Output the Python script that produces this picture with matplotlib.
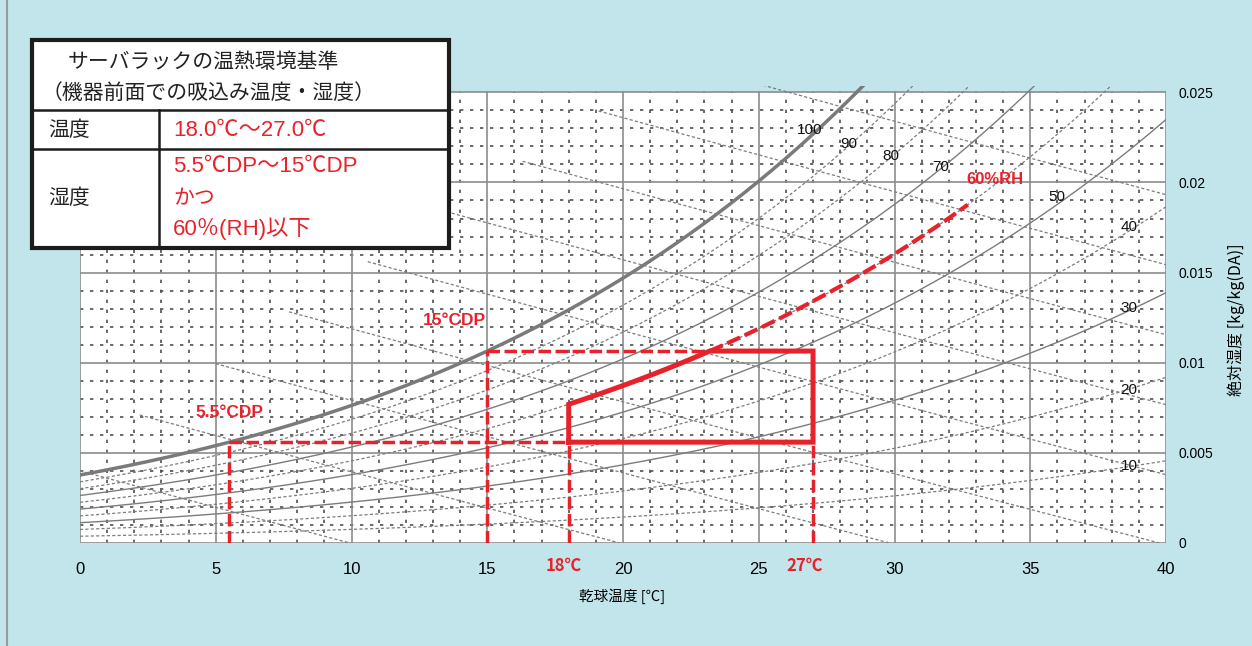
import numpy as np
import matplotlib
matplotlib.use("Agg")
import matplotlib.pyplot as plt
from matplotlib.patches import Rectangle

plt.rcParams['font.family'] = ['Noto Sans CJK JP', 'DejaVu Sans']

# ---- chart values ----
rh_levels = [10, 20, 30, 40, 50, 60, 70, 80, 90, 100]
rh_solid = [30, 50, 70]
enthalpy_levels = [10, 20, 30, 40, 50, 60, 70, 80, 90]
enthalpy_start_t = [0.0, 2.2, 5.0, 7.7, 10.6, 13.5, 16.3, 19.1, 21.9]

x_ticks = [0, 5, 10, 15, 20, 25, 30, 35, 40]
y_ticks = [0, 0.005, 0.01, 0.015, 0.02, 0.025]
y_tick_labels = ['0', '0.005', '0.01', '0.015', '0.02', '0.025']

rh_label_text = ['10', '20', '30', '40', '50', '60%RH', '70', '80', '90', '100']
rh_label_x = [38.64, 38.64, 38.64, 38.64, 35.98, 33.7, 31.7, 29.86, 28.3, 26.88]
rh_label_y = [0.00427, 0.00848, 0.01303, 0.01752, 0.01918, 0.02018, 0.02084, 0.02145, 0.02212, 0.02289]

temp_low, temp_high = 18.0, 27.0
dp_low, dp_high = 5.5, 15.0
rh_max = 60
rh_line_end_t = 32.7
pressure = 101.325

header_lines = ['サーバラックの温熱環境基準', '（機器前面での吸込み温度・湿度）']
row_names = ['温度', '湿度']
temp_text = '18.0℃～27.0℃'
hum_texts = ['5.5℃DP～15℃DP', 'かつ', '60％(RH)以下']

BG = '#c2e5eb'
RED = '#e8222a'
GRAY = '#7c7c7c'


def pws(t):
    return 0.61078 * np.exp(17.27 * t / (t + 237.3))


def w_of(pw):
    return 0.622 * pw / (pressure - pw)


def t_of_pws(p):
    a = np.log(p / 0.61078)
    return 237.3 * a / (17.27 - a)


fig = plt.figure(figsize=(12.52, 6.46), dpi=100, facecolor=BG)
W, H = 1252, 646
ax = fig.add_axes([80 / W, 1 - 543 / H, (1166 - 80) / W, (543 - 86) / H])
ax.set_facecolor('none')
ax.set_xlim(0, 40)
ax.set_ylim(0, 0.02535)
for s in ax.spines.values():
    s.set_visible(False)

ax.add_patch(Rectangle((0, 0), 40, 0.025, facecolor='white', edgecolor='none', zorder=0))

# minor dotted grid
for xv in range(1, 40):
    if xv % 5:
        ax.plot([xv, xv], [0, 0.025], color='#505050', lw=1.2, ls=(0, (2, 4)), zorder=1)
for k in range(1, 25):
    if k % 5:
        ax.plot([0, 40], [k * 0.001, k * 0.001], color='#505050', lw=1.2, ls=(0, (2, 4)), zorder=1)
# major grid
for xv in x_ticks:
    ax.plot([xv, xv], [0, 0.025], color='#8c8c8c', lw=1.2, zorder=2)
for yv in y_ticks:
    ax.plot([0, 40], [yv, yv], color='#8c8c8c', lw=1.2, zorder=2)

# relative humidity curves
t = np.linspace(0, 40, 400)
for rh in rh_levels:
    w = w_of(pws(t) * rh / 100)
    if rh == 100:
        ax.plot(t, w, color='#7a7a7a', lw=2.5, zorder=3)
    elif rh in rh_solid:
        ax.plot(t, w, color=GRAY, lw=1.0, zorder=3)
    else:
        ax.plot(t, w, color=GRAY, lw=0.9, ls=(0, (2.5, 1.8)), zorder=3)

# enthalpy lines
for h, t0 in zip(enthalpy_levels, enthalpy_start_t):
    te = np.linspace(t0, min(h / 1.006, 40), 100)
    we = (h - 1.006 * te) / (2501 + 1.86 * te)
    ax.plot(te, we, color=GRAY, lw=0.9, ls=(0, (2.5, 1.8)), zorder=3)

rfont = ['Liberation Sans', 'Noto Sans CJK JP']
for txt, lx, ly in zip(rh_label_text, rh_label_x, rh_label_y):
    if 'RH' in txt:
        ax.text(lx, ly, txt, color=RED, fontsize=12, fontweight='bold',
                family=rfont, ha='center', va='center', zorder=6)
    else:
        ax.text(lx, ly, txt, color='#111111', fontsize=11,
                family=rfont, ha='center', va='center', zorder=6)

# recommended range
w_low = w_of(pws(dp_low))
w_high = w_of(pws(dp_high))
t_cross = t_of_pws(pws(dp_high) / (rh_max / 100))

dash = (0, (3.6, 1.3))
ax.plot([dp_low, temp_low], [w_low, w_low], color=RED, lw=2.5, ls=dash, zorder=5)
ax.plot([dp_low, dp_low], [0, w_low], color=RED, lw=2.5, ls=dash, zorder=5)
ax.plot([dp_high, t_cross], [w_high, w_high], color=RED, lw=2.5, ls=dash, zorder=5)
ax.plot([dp_high, dp_high], [0, w_high], color=RED, lw=2.5, ls=dash, zorder=5)
ax.plot([temp_low, temp_low], [0, w_low], color=RED, lw=2.5, ls=dash, zorder=5)
ax.plot([temp_high, temp_high], [0, w_low], color=RED, lw=2.5, ls=dash, zorder=5)
tr = np.linspace(t_cross, rh_line_end_t, 60)
ax.plot(tr, w_of(pws(tr) * rh_max / 100), color=RED, lw=3.0, ls=(0, (3.4, 1.2)), zorder=5)

tb = np.linspace(temp_low, t_cross, 40)
box_x = np.concatenate([[temp_low], tb, [temp_high, temp_high, temp_low]])
box_y = np.concatenate([[w_low], w_of(pws(tb) * rh_max / 100), [w_high, w_low, w_low]])
ax.plot(box_x, box_y, color=RED, lw=3.6, solid_joinstyle='miter', zorder=5)

ax.text(5.49, 0.00726, '5.5°CDP', color=RED, fontsize=12.5, fontweight='bold', family=rfont,
        ha='center', va='center', zorder=6)
ax.text(13.8, 0.01236, '15°CDP', color=RED, fontsize=12.5, fontweight='bold', family=rfont,
        ha='center', va='center', zorder=6)
ax.text(temp_low - 0.2, -0.00127, '18℃', color=RED, fontsize=12, fontweight='bold',
        ha='center', va='center', clip_on=False)
ax.text(temp_high - 0.3, -0.00127, '27℃', color=RED, fontsize=12, fontweight='bold',
        ha='center', va='center', clip_on=False)

# ticks
ax.set_xticks(x_ticks)
ax.set_xticklabels([str(v) for v in x_ticks], fontsize=12, family=rfont)
ax.tick_params(axis='x', length=0, pad=14)
ax.yaxis.tick_right()
ax.set_yticks(y_ticks)
ax.set_yticklabels(y_tick_labels, fontsize=10, family=rfont)
ax.tick_params(axis='y', length=0, pad=9)

fig.text(622 / W, 1 - 596 / H, '乾球温度 [℃]', fontsize=10.5, ha='center', va='center')
fig.text(1236 / W, 1 - 320 / H, '絶対湿度 [kg/kg(DA)]', fontsize=11.5, rotation=90,
         ha='center', va='center')

# table overlay in pixel coordinates
ov = fig.add_axes([0, 0, 1, 1], zorder=10)
ov.set_xlim(0, W)
ov.set_ylim(H, 0)
ov.axis('off')
ov.plot([7, 7], [0, H], color='#9a9a9a', lw=1.5)
ov.add_patch(Rectangle((32, 40), 417, 208, facecolor='white', edgecolor='#1c1c1c', lw=3.0))
ov.plot([32, 449], [110, 110], color='#1c1c1c', lw=1.8)
ov.plot([32, 449], [149, 149], color='#1c1c1c', lw=1.8)
ov.plot([159, 159], [110, 248], color='#1c1c1c', lw=1.8)

ov.text(68, 62, header_lines[0], fontsize=15, color='#222222', va='center', ha='left')
ov.text(42, 93, header_lines[1], fontsize=15, color='#222222', va='center', ha='left')
ov.text(48, 130, row_names[0], fontsize=15, color='#222222', va='center', ha='left')
ov.text(48, 198, row_names[1], fontsize=15, color='#222222', va='center', ha='left')
ov.text(173, 130, temp_text, fontsize=16, color=RED, va='center', ha='left', family=rfont)
ov.text(173, 166, hum_texts[0], fontsize=16, color=RED, va='center', ha='left', family=rfont)
ov.text(173, 198, hum_texts[1], fontsize=15, color=RED, va='center', ha='left')
ov.text(173, 229, hum_texts[2], fontsize=16, color=RED, va='center', ha='left', family=rfont)

fig.savefig('out.png', dpi=100, facecolor=BG)
